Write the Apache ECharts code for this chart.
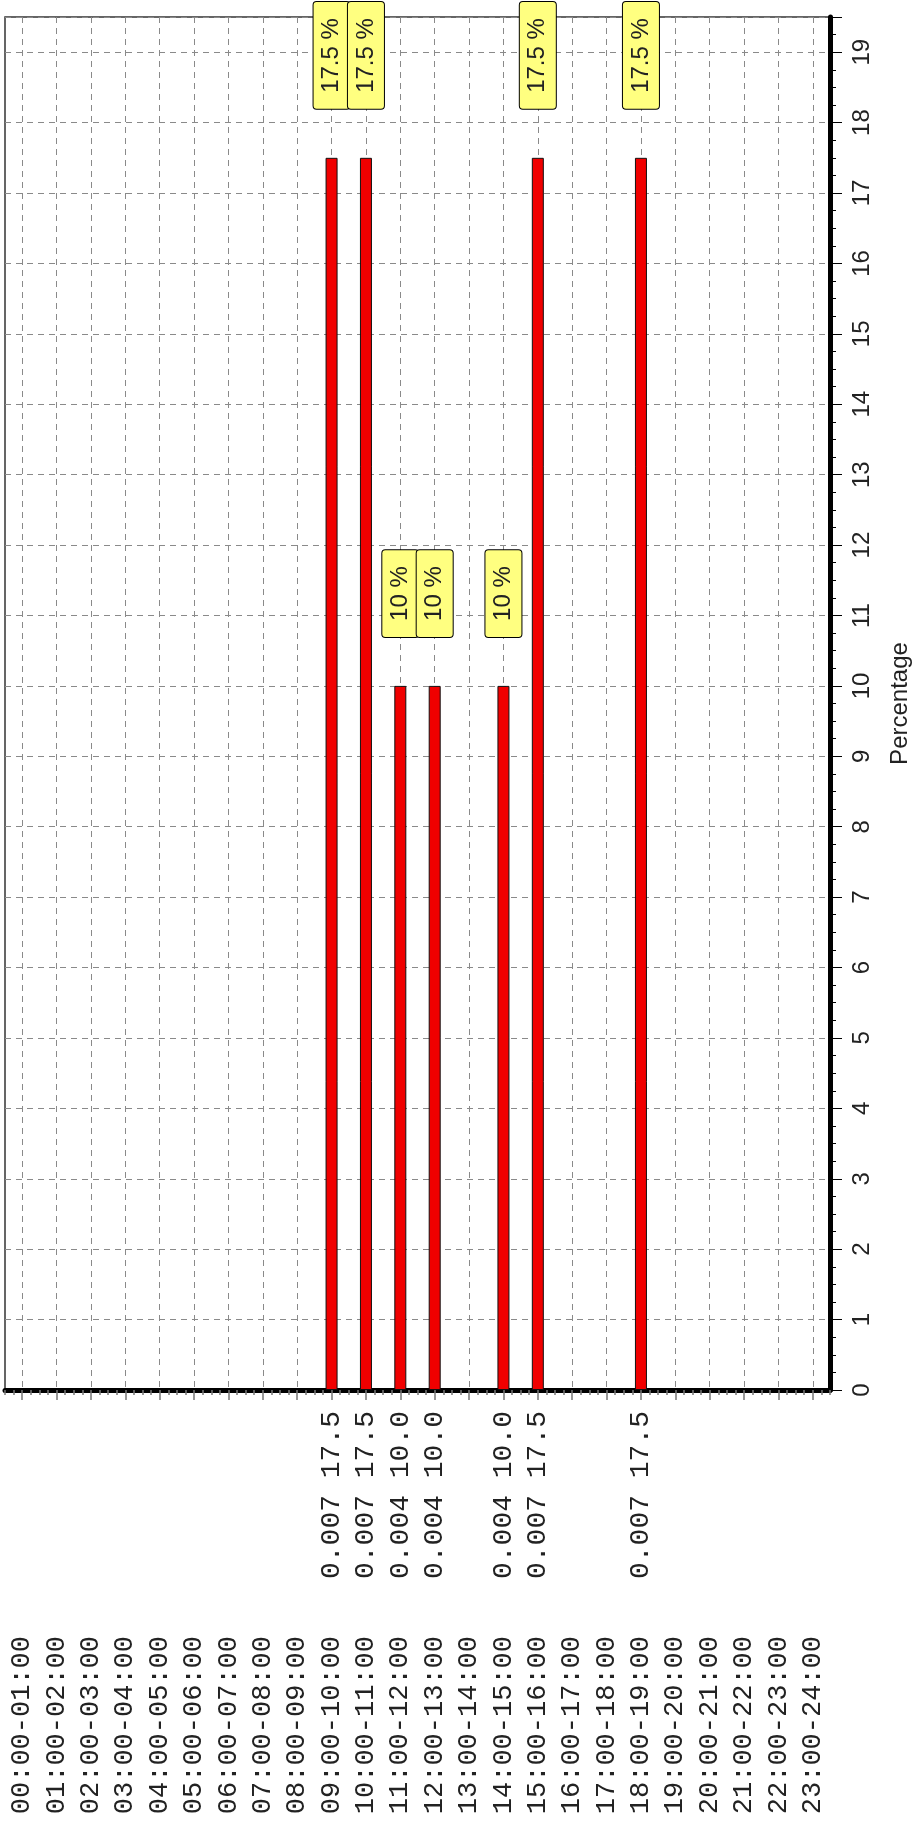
<!DOCTYPE html>
<html>
<head>
<meta charset="utf-8">
<script src="https://cdn.jsdelivr.net/npm/echarts@6/dist/echarts.min.js"></script>
<style>
html,body{margin:0;padding:0;background:#fff;}
#chart{width:920px;height:1834px;}
</style>
</head>
<body>
<div id="chart"></div>
<script>
// ---- data ----
const categories = ['00:00-01:00','01:00-02:00','02:00-03:00','03:00-04:00','04:00-05:00','05:00-06:00',
  '06:00-07:00','07:00-08:00','08:00-09:00','09:00-10:00','10:00-11:00','11:00-12:00',
  '12:00-13:00','13:00-14:00','14:00-15:00','15:00-16:00','16:00-17:00','17:00-18:00',
  '18:00-19:00','19:00-20:00','20:00-21:00','21:00-22:00','22:00-23:00','23:00-24:00'];
const percentages = [null,null,null,null,null,null,null,null,null,17.5,17.5,10,
  10,null,10,17.5,null,null,17.5,null,null,null,null,null];
const amounts = [null,null,null,null,null,null,null,null,null,0.007,0.007,0.004,
  0.004,null,0.004,0.007,null,null,0.007,null,null,null,null,null];
const yMin = 0, yMax = 19.5, yStep = 1;
const axisTitle = 'Percentage';

const mono = '"Liberation Mono", "DejaVu Sans Mono", monospace';
const sans = '"Liberation Sans", Arial, sans-serif';
const gridGray = '#8a8a8a';

const chart = echarts.init(document.getElementById('chart'), null, {renderer: 'canvas'});
chart.setOption({
  animation: false,
  backgroundColor: '#ffffff',
  grid: {left: 5, top: 17, right: 83, bottom: 444, show: true, borderColor: '#333', borderWidth: 1.5, backgroundColor: 'transparent'},
  xAxis: [
    {
      type: 'category', data: categories, position: 'bottom',
      axisLine: {show: true, onZero: false, lineStyle: {color: '#000', width: 5}},
      axisTick: {show: true, alignWithLabel: true, length: 10, lineStyle: {color: '#777', width: 1.5}},
      splitLine: {show: true, alignWithLabel: true, lineStyle: {color: gridGray, type: [6, 5], width: 1}},
      axisLabel: {interval: 0, rotate: 90, margin: 246, fontFamily: mono, fontSize: 27, color: '#222'}
    },
    {
      type: 'category', data: categories, position: 'bottom',
      axisLine: {show: false, onZero: false}, axisTick: {show: false}, splitLine: {show: false},
      axisLabel: {
        interval: 0, rotate: 90, margin: 21, fontFamily: mono, fontSize: 28, color: '#222',
        formatter: function (v, i) {
          return percentages[i] == null ? '' : amounts[i].toFixed(3) + ' ' + percentages[i].toFixed(1);
        }
      }
    },
    {
      type: 'value', position: 'bottom', min: -0.5, max: 23.5, interval: 0.25,
      axisLine: {show: false, onZero: false}, axisLabel: {show: false}, splitLine: {show: false},
      axisTick: {show: true, length: 5, lineStyle: {color: '#777', width: 1.5}}
    }
  ],
  yAxis: {
    type: 'value', position: 'right', min: yMin, max: yMax, interval: yStep,
    name: axisTitle, nameLocation: 'middle', nameRotate: 90, nameGap: 58,
    nameTextStyle: {fontFamily: sans, fontSize: 24, color: '#222'},
    axisLine: {show: true, onZero: false, lineStyle: {color: '#000', width: 5}},
    axisTick: {show: true, length: 12, lineStyle: {color: '#000', width: 1}},
    minorTick: {show: true, splitNumber: 4, length: 6, lineStyle: {color: '#000', width: 1}},
    splitLine: {show: true, lineStyle: {color: gridGray, type: [6, 5], width: 1}},
    axisLabel: {
      rotate: 90, margin: 20, fontFamily: sans, fontSize: 24, color: '#222',
      formatter: function (v) { return Number.isInteger(v) ? String(v) : ''; }
    }
  },
  series: [{
    type: 'bar', xAxisIndex: 0, data: percentages, barWidth: 12,
    itemStyle: {color: '#f00000', borderColor: '#111', borderWidth: 1},
    label: {
      show: true, position: 'top', distance: 49, rotate: 90, align: 'left', verticalAlign: 'middle',
      formatter: function (p) { return p.value + ' %'; },
      fontFamily: sans, fontSize: 24, lineHeight: 28, color: '#222',
      backgroundColor: '#ffff80', borderColor: '#000', borderWidth: 1, borderRadius: 3, padding: [4, 16]
    }
  }]
});
</script>
</body>
</html>
